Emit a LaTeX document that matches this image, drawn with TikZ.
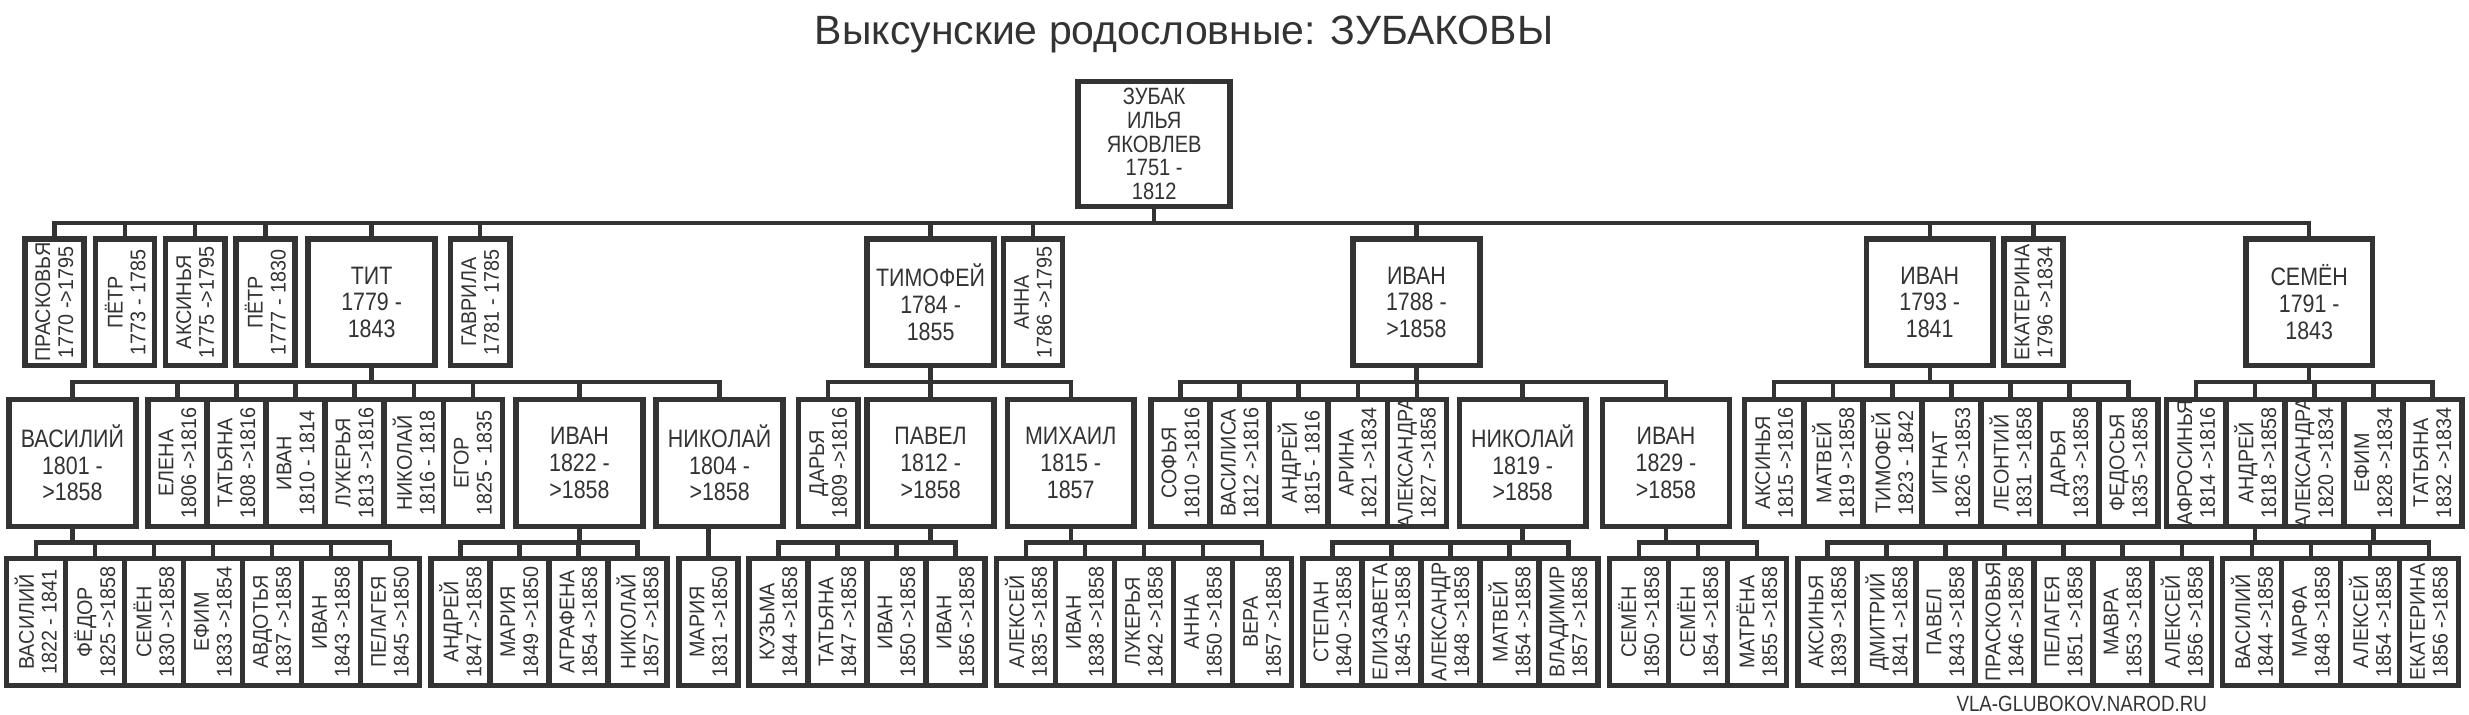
\documentclass[tikz,border=0pt]{standalone}
\usepackage{fontspec}
\setmainfont{Liberation Sans}
\setsansfont{Liberation Sans}
\newfontfamily\condfont[FakeStretch=0.85]{Liberation Sans}
\newfontfamily\slimfont[FakeStretch=0.93]{Liberation Sans}
\definecolor{ink}{HTML}{333333}
\tikzset{
  box/.style={draw=ink, text=ink, line width=3.5pt, inner sep=0pt, minimum height=80.5pt},
  bigbox/.style={box, minimum width=80.5pt, align=center, font=\condfont\fontsize{16}{17}\selectfont},
  slimbox/.style={box, minimum width=37.5pt},
  vlab/.style={rotate=90, align=center, text=ink, inner sep=0pt, font=\slimfont\fontsize{13.5}{14.5}\selectfont},
  link/.style={draw=ink, line width=2.8pt},
}
\newcommand\vtext[2]{label={[vlab]center:{#1\\#2}}}
\begin{document}
\begin{tikzpicture}[x=1pt,y=-1pt]
\useasboundingbox[fill=white] (0,0) rectangle (1568,454);
\node[text=ink, font=\fontsize{26}{30}\selectfont] (title) at (752,22) {Выксунские родословные: ЗУБАКОВЫ};
\node[text=ink, font=\condfont\fontsize{14}{16}\selectfont] (site) at (1322,447) {VLA-GLUBOKOV.NAROD.RU};
% root
\node[bigbox, minimum width=96.5pt, minimum height=79.5pt, font=\condfont\fontsize{15}{15}\selectfont] (root) at (733,91.5) {ЗУБАК\\ИЛЬЯ\\ЯКОВЛЕВ\\1751 -\\1812};
% children of the root
\node[slimbox, label={[vlab]center:{ПРАСКОВЬЯ\\1770 ->1795}}] (p1) at (34.5,192) {};
\node[slimbox, label={[vlab]center:{ПЁТР\\1773 - 1785}}] (p2) at (79.5,192) {};
\node[slimbox, label={[vlab]center:{АКСИНЬЯ\\1775 ->1795}}] (p3) at (124,192) {};
\node[slimbox, label={[vlab]center:{ПЁТР\\1777 - 1830}}] (p4) at (168.5,192) {};
\node[bigbox] (tit) at (236,192) {ТИТ\\1779 -\\1843};
\node[slimbox, label={[vlab]center:{ГАВРИЛА\\1781 - 1785}}] (p6) at (305,192) {};
\node[bigbox] (tim) at (591,192) {ТИМОФЕЙ\\1784 -\\1855};
\node[slimbox, label={[vlab]center:{АННА\\1786 ->1795}}] (p8) at (656,192) {};
\node[bigbox] (ivA) at (899.5,192) {ИВАН\\1788 -\\>1858};
\node[bigbox] (ivB) at (1225.5,192) {ИВАН\\1793 -\\1841};
\node[slimbox, label={[vlab]center:{ЕКАТЕРИНА\\1796 ->1834}}] (p11) at (1291.5,192) {};
\node[bigbox] (sem) at (1466.5,192) {СЕМЁН\\1791 -\\1843};
\foreach \c in {p1,p2,p3,p4,tit,p6,tim,p8,ivA,ivB,p11,sem}
  \draw[link] (root.south) -- ++(0pt,-8.5pt) -| (\c.north);
% grandchildren
\node[bigbox] (vas) at (46,294) {ВАСИЛИЙ\\1801 -\\>1858};
\foreach \n/\d [count=\i] in {ЕЛЕНА/1806 ->1816, ТАТЬЯНА/1808 ->1816, ИВАН/1810 - 1814, ЛУКЕРЬЯ/1813 ->1816, НИКОЛАЙ/1816 - 1818, ЕГОР/1825 - 1835}
  \node[slimbox, label={[vlab]center:{\n\\\d}}] (tt\i) at (94+37.5*\i-18.75,294) {};
\node[bigbox] (ivC) at (368,294) {ИВАН\\1822 -\\>1858};
\node[bigbox] (nikA) at (457,294) {НИКОЛАЙ\\1804 -\\>1858};
\foreach \c in {vas,tt1,tt2,tt3,tt4,tt5,tt6,ivC,nikA}
  \draw[link] (tit.south) -- ++(0pt,-8.5pt) -| (\c.north);
\node[slimbox, label={[vlab]center:{ДАРЬЯ\\1809 ->1816}}] (dar) at (526,294) {};
\node[bigbox] (pav) at (591,294) {ПАВЕЛ\\1812 -\\>1858};
\node[bigbox] (mih) at (680,294) {МИХАИЛ\\1815 -\\1857};
\foreach \c in {dar,pav,mih}
  \draw[link] (tim.south) -- ++(0pt,-8.5pt) -| (\c.north);
\foreach \n/\d [count=\i] in {СОФЬЯ/1810 ->1816, ВАСИЛИСА/1812 ->1816, АНДРЕЙ/1815 - 1816, АРИНА/1821 ->1834, АЛЕКСАНДРА/1827 ->1858}
  \node[slimbox, label={[vlab]center:{\n\\\d}}] (ia\i) at (731+37.5*\i-18.75,294) {};
\node[bigbox] (nikB) at (967,294) {НИКОЛАЙ\\1819 -\\>1858};
\node[bigbox] (ivD) at (1058,294) {ИВАН\\1829 -\\>1858};
\foreach \c in {ia1,ia2,ia3,ia4,ia5,nikB,ivD}
  \draw[link] (ivA.south) -- ++(0pt,-8.5pt) -| (\c.north);
\foreach \n/\d [count=\i] in {АКСИНЬЯ/1815 ->1816, МАТВЕЙ/1819 ->1858, ТИМОФЕЙ/1823 - 1842, ИГНАТ/1826 ->1853, ЛЕОНТИЙ/1831 ->1858, ДАРЬЯ/1833 ->1858, ФЕДОСЬЯ/1835 ->1858}{
  \node[slimbox, label={[vlab]center:{\n\\\d}}] (ib\i) at (1108+37.5*\i-18.75,294) {};
  \draw[link] (ivB.south) -- ++(0pt,-8.5pt) -| (ib\i.north);
}
\foreach \n/\d [count=\i] in {АФРОСИНЬЯ/1814 ->1816, АНДРЕЙ/1818 ->1858, АЛЕКСАНДРА/1820 ->1834, ЕФИМ/1828 ->1834, ТАТЬЯНА/1832 ->1834}{
  \node[slimbox, label={[vlab]center:{\n\\\d}}] (sm\i) at (1376+37.5*\i-18.75,294) {};
  \draw[link] (sem.south) -- ++(0pt,-8.5pt) -| (sm\i.north);
}
% great-grandchildren
\foreach \n/\d [count=\i] in {ВАСИЛИЙ/1822 - 1841, ФЁДОР/1825 ->1858, СЕМЁН/1830 ->1858, ЕФИМ/1833 ->1854, АВДОТЬЯ/1837 ->1858, ИВАН/1843 ->1858, ПЕЛАГЕЯ/1845 ->1850}{
  \node[slimbox, label={[vlab]center:{\n\\\d}}] (g1\i) at (4+37.5*\i-18.75,395) {};
  \draw[link] (vas.south) -- ++(0pt,-8.5pt) -| (g1\i.north);
}
\foreach \n/\d [count=\i] in {АНДРЕЙ/1847 ->1858, МАРИЯ/1849 ->1850, АГРАФЕНА/1854 ->1858, НИКОЛАЙ/1857 ->1858}{
  \node[slimbox, label={[vlab]center:{\n\\\d}}] (g2\i) at (273.6+37.5*\i-18.75,395) {};
  \draw[link] (ivC.south) -- ++(0pt,-8.5pt) -| (g2\i.north);
}
\node[slimbox, label={[vlab]center:{МАРИЯ\\1831 ->1850}}] (g31) at (450,395) {};
\draw[link] (g31.north |- nikA.south) -- (g31.north);
\foreach \n/\d [count=\i] in {КУЗЬМА/1844 ->1858, ТАТЬЯНА/1847 ->1858, ИВАН/1850 ->1858, ИВАН/1856 ->1858}{
  \node[slimbox, label={[vlab]center:{\n\\\d}}] (g4\i) at (475.6+37.5*\i-18.75,395) {};
  \draw[link] (pav.south) -- ++(0pt,-8.5pt) -| (g4\i.north);
}
\foreach \n/\d [count=\i] in {АЛЕКСЕЙ/1835 ->1858, ИВАН/1838 ->1858, ЛУКЕРЬЯ/1842 ->1858, АННА/1850 ->1858, ВЕРА/1857 ->1858}{
  \node[slimbox, label={[vlab]center:{\n\\\d}}] (g5\i) at (632.8+37.5*\i-18.75,395) {};
  \draw[link] (mih.south) -- ++(0pt,-8.5pt) -| (g5\i.north);
}
\foreach \n/\d [count=\i] in {СТЕПАН/1840 ->1858, ЕЛИЗАВЕТА/1845 ->1858, АЛЕКСАНДР/1848 ->1858, МАТВЕЙ/1854 ->1858, ВЛАДИМИР/1857 ->1858}{
  \node[slimbox, label={[vlab]center:{\n\\\d}}] (g6\i) at (827.4+37.5*\i-18.75,395) {};
  \draw[link] (nikB.south) -- ++(0pt,-8.5pt) -| (g6\i.north);
}
\foreach \n/\d [count=\i] in {СЕМЁН/1850 ->1858, СЕМЁН/1854 ->1858, МАТРЁНА/1855 ->1858}{
  \node[slimbox, label={[vlab]center:{\n\\\d}}] (g7\i) at (1022+37.5*\i-18.75,395) {};
  \draw[link] (ivD.south) -- ++(0pt,-8.5pt) -| (g7\i.north);
}
\foreach \n/\d [count=\i] in {АКСИНЬЯ/1839 ->1858, ДМИТРИЙ/1841 ->1858, ПАВЕЛ/1843 ->1858, ПРАСКОВЬЯ/1846 ->1858, ПЕЛАГЕЯ/1851 ->1858, МАВРА/1853 ->1858, АЛЕКСЕЙ/1856 ->1858}{
  \node[slimbox, label={[vlab]center:{\n\\\d}}] (g8\i) at (1141.8+37.5*\i-18.75,395) {};
  \draw[link] (sm2.south) -- ++(0pt,-8.5pt) -| (g8\i.north);
}
\foreach \n/\d [count=\i] in {ВАСИЛИЙ/1844 ->1858, МАРФА/1848 ->1858, АЛЕКСЕЙ/1854 ->1858, ЕКАТЕРИНА/1856 ->1858}{
  \node[slimbox, label={[vlab]center:{\n\\\d}}] (g9\i) at (1411.4+37.5*\i-18.75,395) {};
  \draw[link] (sm4.south) -- ++(0pt,-8.5pt) -| (g9\i.north);
}
\end{tikzpicture}
\end{document}
